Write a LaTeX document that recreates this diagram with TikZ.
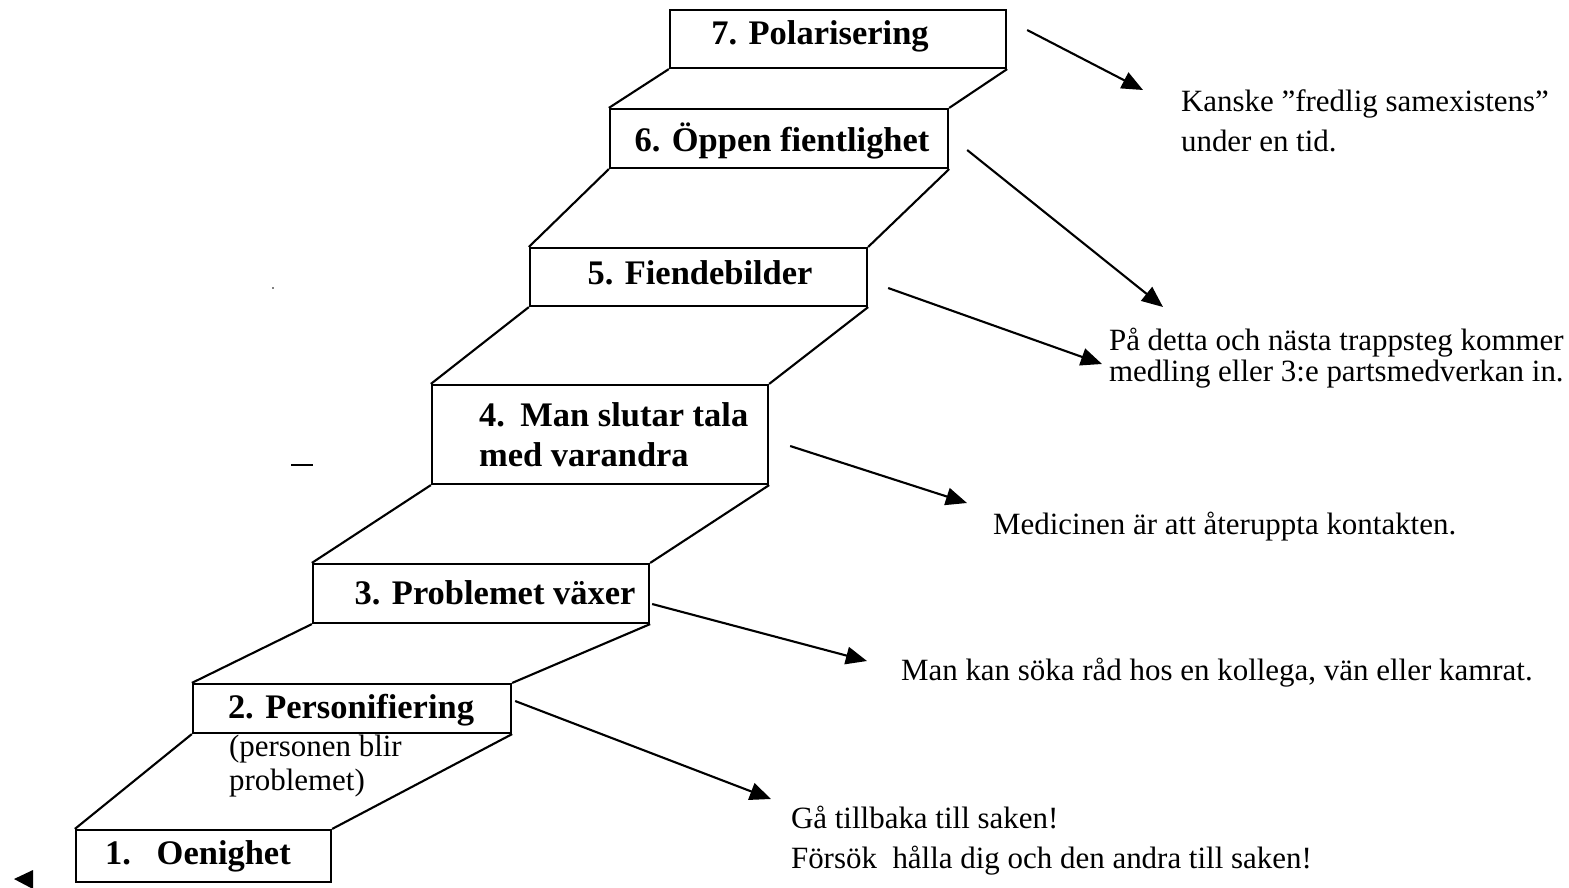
\documentclass[tikz,border=0pt]{standalone}
\usepackage{fontspec}
\setmainfont{Liberation Serif}
\usetikzlibrary{calc}
\usetikzlibrary{arrows.meta}

\begin{document}
\begin{tikzpicture}[x=0.01cm,y=-0.01cm,line width=0.6pt,
    stepbox/.style={draw,rectangle,inner sep=0pt},
    steplabel/.style={font=\fontsize{9.8}{11.4}\selectfont\bfseries,inner sep=0pt,align=left},
    note/.style={font=\fontsize{8.8}{11.4}\selectfont,inner sep=0pt,anchor=west,align=left},
    pil/.style={-{Triangle[length=6pt,width=5pt]}}]
        % page size
        \useasboundingbox (0,0) rectangle (1569,887);
        % draw the steps
        \node[stepbox,minimum width=3.36cm,minimum height=0.58cm] (s7) at (838,39) {};
        \node[stepbox,minimum width=3.38cm,minimum height=0.59cm] (s6) at (779,138.5) {};
        \node[stepbox,minimum width=3.37cm,minimum height=0.58cm] (s5) at (698.5,277) {};
        \node[stepbox,minimum width=3.36cm,minimum height=0.99cm] (s4) at (600,434.5) {};
        \node[stepbox,minimum width=3.36cm,minimum height=0.59cm] (s3) at (481,593.5) {};
        \node[stepbox,minimum width=3.18cm,minimum height=0.49cm] (s2) at (352,708.5) {};
        \node[stepbox,minimum width=2.55cm,minimum height=0.52cm] (s1) at (203.5,856) {};
        % draw the sides of the stair
        \draw (s7.south west) -- (s6.north west) (s7.south east) -- (s6.north east);
        \draw (s6.south west) -- (s5.north west) (s6.south east) -- (s5.north east);
        \draw (s5.south west) -- (s4.north west) (s5.south east) -- (s4.north east);
        \draw (s4.south west) -- (s3.north west) (s4.south east) -- (s3.north east);
        \draw (s3.south west) -- (s2.north west) (s3.south east) -- (s2.north east);
        \draw (s2.south west) -- (s1.north west) (s2.south east) -- (s1.north east);
        % step texts
        \node[steplabel] (l7) at (820,36) {7. Polarisering};
        \node[steplabel] (l6) at (782,141) {6. Öppen fientlighet};
        \node[steplabel] (l5) at (700,273) {5. Fiendebilder};
        \node[steplabel,anchor=west] (l4) at (478,435) {4.\hspace{0.45em}Man slutar tala\\med varandra};
        \node[steplabel] (l3) at (495,593) {3. Problemet växer};
        \node[steplabel] (l2) at (351,710) {2. Personifiering};
        \node[note,font=\fontsize{8.8}{9.6}\selectfont] (l2b) at (228,766) {(personen blir\\problemet)};
        \node[steplabel,anchor=west] (l1) at (104,856) {1.\hspace{0.75em}Oenighet};
        % comments and arrows
        \coordinate (e7) at (1143,90);
        \coordinate (e6) at (1163,307);
        \coordinate (e5) at (1102,364);
        \coordinate (e4) at (967,503);
        \coordinate (e3) at (867,661);
        \coordinate (e2) at (771,799);
        \node[note] (n7) at (1180,121) {Kanske ”fredlig samexistens”\\under en tid.};
        \node[note,font=\fontsize{8.8}{8.8}\selectfont] (n5) at (1108,358) {På detta och nästa trappsteg kommer\\medling eller 3:e partsmedverkan in.};
        \node[note] (n4) at (992,527) {Medicinen är att återuppta kontakten.};
        \node[note] (n3) at (900,673) {Man kan söka råd hos en kollega, vän eller kamrat.};
        \node[note] (n2) at (790,841) {Gå tillbaka till saken!\\Försök\ \ hålla dig och den andra till saken!};
        \draw[pil] ($(s7.east)+(20,-9)$) -- (e7);
        \draw[pil] ($(s6.east)+(18,11.5)$) -- (e6);
        \draw[pil] ($(s5.east)+(20,11)$) -- (e5);
        \draw[pil] ($(s4.east)+(21,11.5)$) -- (e4);
        \draw[pil] ($(s3.east)+(2,10.5)$) -- (e3);
        \draw[pil] ($(s2.east)+(3,-7.5)$) -- (e2);
        % loose marks
        \fill (273,288) circle (0.9);
        \draw (291,465) -- (313,465);
        \fill (14,879) -- (33,870) -- (33,889) -- cycle;
\end{tikzpicture}
\end{document}
